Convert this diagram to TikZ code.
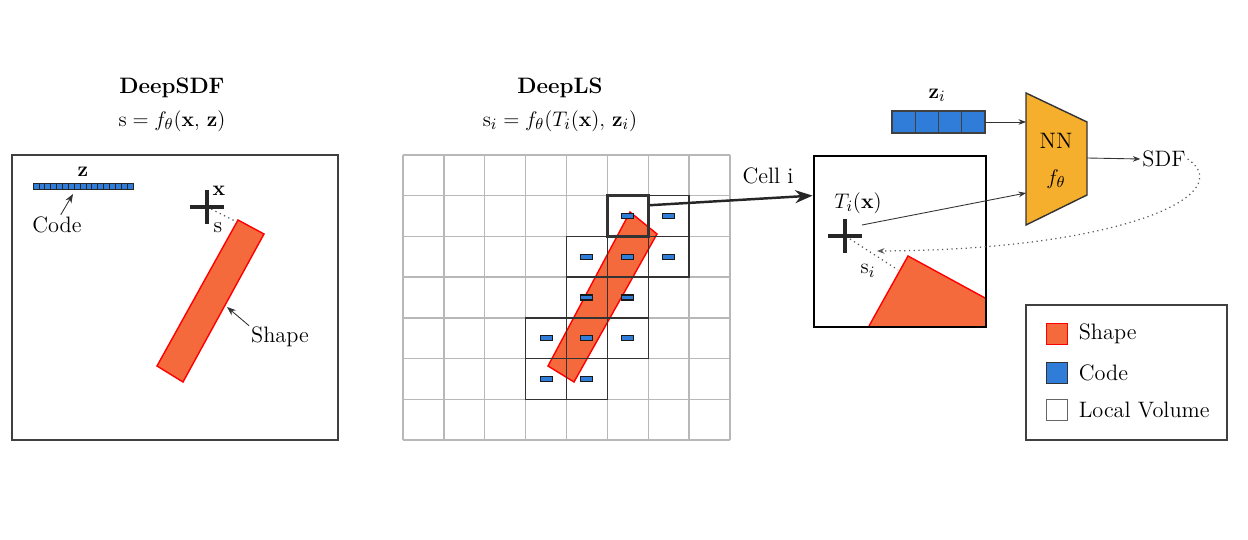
\documentclass[tikz,border=0pt]{standalone}
\usepackage{tikz}
\usetikzlibrary{arrows.meta, positioning, calc}

\definecolor{shapefill}{HTML}{F56A3C}
\definecolor{codefill}{HTML}{2F7DD8}
\definecolor{nnfill}{HTML}{F6AE2D}

\begin{document}
\begin{tikzpicture}[
        x=0.02cm,
        y=-0.02cm,
        txt/.style={
            font=\fontsize{12.7}{15}\selectfont,
            inner sep=1pt
        },
        headtxt/.style={
            font=\fontsize{12.7}{15}\selectfont\bfseries,
            inner sep=1pt
        },
        panel/.style={
            draw=black!75,
            line width=0.8pt
        },
        gridline/.style={
            draw=black!28,
            line width=0.8pt
        },
        cellbox/.style={
            draw=black!80,
            line width=0.8pt,
            minimum width=0.8175cm,
            minimum height=0.8143cm,
            inner sep=0pt
        },
        shapepoly/.style={
            fill=shapefill,
            draw=red,
            line width=0.8pt
        },
        codecell/.style={
            fill=codefill,
            draw=black!75,
            line width=0.4pt
        },
        crossline/.style={
            line width=2.2pt,
            black!85
        },
        pointer/.style={
            -{Stealth[length=1.8mm]},
            black!80,
            line width=0.5pt
        },
        dotline/.style={
            dotted,
            black!65,
            line width=0.7pt
        },
        legbox/.style={
            minimum size=0.42cm,
            inner sep=0pt,
            line width=0.8pt
        }
    ]

        \useasboundingbox (0,0) rectangle (1248,540);

        % ---------------------------------------------------------------------
        % DeepSDF
        % ---------------------------------------------------------------------

        \node[headtxt] (sdftitle) at (172,88) {DeepSDF};
        \node[txt] (sdfeq) at (172,121) {$\mathrm{s} = f_\theta(\mathbf{x},\,\mathbf{z})$};

        \draw[panel] (12,155) rectangle (338,440);

        \foreach \k in {0,...,16} {
            \draw[codecell, draw=black!85] ({33+\k*100/17},183) rectangle ++(100/17,6);
        }
        \node[headtxt] (zlbl) at (83,172) {$\mathbf{z}$};
        \coordinate (codetip) at (73,194);
        \node[txt] (codelbl) at (57,225) {Code};
        \draw[pointer] (codelbl.70) -- (codetip);

        \draw[shapepoly] (238,220) -- (264,234) -- (183,382) -- (157,366) -- cycle;
        \coordinate (shapeedge) at (227,307);
        \node[txt] (shapelbl) at (280,337) {Shape};
        \draw[pointer] (shapelbl.160) -- (shapeedge);

        \coordinate (xpt) at (207,207);
        \coordinate (sdfcorner) at (237,222);
        \draw[dotline] (xpt) -- (sdfcorner);
        \draw[crossline] ($(xpt)+(-17,0)$) -- ++(34,0);
        \draw[crossline] ($(xpt)+(0,-17)$) -- ++(0,34);
        \node[headtxt] (xlbl) at (219,191) {$\mathbf{x}$};
        \node[txt] (slbl) at (218,228) {s};

        % ---------------------------------------------------------------------
        % DeepLS
        % ---------------------------------------------------------------------

        \node[headtxt] (lstitle) at (560,88) {DeepLS};
        \node[txt] (lseq) at (560,121) {$\mathrm{s}_i = f_\theta(T_i(\mathbf{x}),\,\mathbf{z}_i)$};

        \draw[shapepoly] (630,212) -- (657,234) -- (574,382) -- (548,366) -- cycle;

        \foreach \i in {0,...,8} {
            \draw[gridline] ({403+\i*40.875},155) -- ({403+\i*40.875},440);
        }
        \foreach \j in {0,...,7} {
            \draw[gridline] (403,{155+\j*40.714}) -- (730,{155+\j*40.714});
        }

        \foreach \c/\r in {5/1,6/1,4/2,5/2,6/2,4/3,5/3,3/4,4/4,5/4,3/5,4/5} {
            \node[cellbox] (cell-\c-\r) at ({403+(\c+0.5)*40.875},{155+(\r+0.5)*40.714}) {};
            \draw[codecell, draw=black!90, line width=0.6pt] ($(cell-\c-\r)+(-6,-2.5)$) rectangle ++(12,5);
        }
        \node[cellbox, line width=1.5pt] (celli) at ({403+5.5*40.875},{155+1.5*40.714}) {};

        % ---------------------------------------------------------------------
        % Cell i, network and SDF
        % ---------------------------------------------------------------------

        \node[
            draw,
            line width=1.6pt,
            minimum width=3.44cm,
            minimum height=3.42cm,
            inner sep=0pt
        ] (cellzoom) at (900,241.5) {};

        \node[txt] (celllbl) at (768,176) {Cell i};
        \draw[-{Stealth[length=3.5mm, width=2.6mm]}, line width=1.4pt, black!85]
            ($(celli.north east)!0.25!(celli.south east)$)
            --
            ($(cellzoom.north west)+(0,41)$);

        \draw[shapepoly, draw=none] (869,327) -- (908,256) -- (986,298) -- (986,327) -- cycle;
        \draw[red, line width=0.8pt] (869,326) -- (908,256) -- (985,298);
        \node[draw, line width=1.6pt, minimum width=3.44cm, minimum height=3.42cm] at (cellzoom) {};

        \coordinate (tix) at (845,236);
        \coordinate (tihit) at (898,270);
        \draw[dotline] ($(tix)+(5,3)$) -- (tihit);
        \draw[crossline] ($(tix)+(-17,0)$) -- ++(34,0);
        \draw[crossline] ($(tix)+(0,-17)$) -- ++(0,34);
        \node[txt] (tilbl) at (858,203) {$T_i(\mathbf{x})$};
        \node[txt] (silbl) at (868,271) {$\mathrm{s}_i$};

        % network block
        \draw[fill=nnfill, draw=black!80, line width=0.8pt]
            (1026,93) -- (1087,122) -- (1087,195) -- (1026,225) -- cycle;
        \node[
            txt,
            align=center,
            font=\fontsize{12.7}{20}\selectfont
        ] (nn) at (1056,161) {NN\\$f_\theta$};
        \coordinate (nnin1) at (1026,122);
        \coordinate (nnin2) at (1026,193);
        \coordinate (nnout) at (1087,158);

        % local code z_i
        \foreach \k in {0,...,3} {
            \draw[codecell, line width=0.7pt] ({892+\k*23.25},111) rectangle ++(23.25,22);
        }
        \coordinate (zibar) at (985,122);
        \node[headtxt] (zilbl) at (937,95) {$\mathbf{z}_i$};

        \node[txt] (sdf) at (1164,159) {SDF};

        \draw[pointer, -{Stealth[length=1.5mm]}] (zibar) -- (nnin1);
        \draw[pointer, -{Stealth[length=1.5mm]}] ($(tix)+(17,-11)$) -- (nnin2);
        \draw[pointer, -{Stealth[length=1.5mm]}] (nnout) -- (sdf.west);

        \coordinate (backpt) at (877,251);
        \draw[dotline, -{Stealth[length=1.5mm]}]
            (sdf.east) .. controls (1240,195) and (1120,250) .. (backpt);

        % ---------------------------------------------------------------------
        % Legend
        % ---------------------------------------------------------------------

        \draw[draw=black!75, line width=0.9pt] (1026,305) rectangle (1227,440);

        \node[legbox, fill=shapefill, draw=red] (legshape) at (1057,334) {};
        \node[legbox, fill=codefill, draw=black!80] (legcode) at (1057,373) {};
        \node[legbox, draw=black!60, fill=white] (legvol) at (1057,410) {};

        \node[txt, right=0.17cm of legshape] (legshapelbl) {Shape};
        \node[txt, right=0.17cm of legcode] (legcodelbl) {Code};
        \node[txt, right=0.17cm of legvol] (legvollbl) {Local Volume};

    \end{tikzpicture}
\end{document}
